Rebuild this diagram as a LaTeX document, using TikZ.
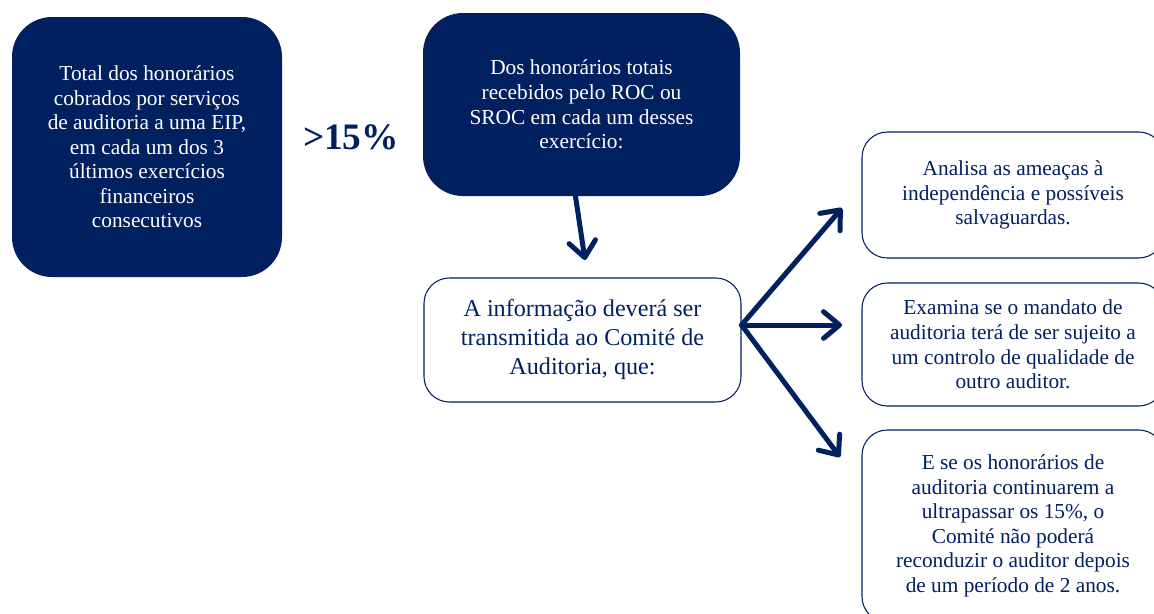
\documentclass[tikz,border=0pt]{standalone}
\usepackage{fontspec}
\setmainfont{Liberation Serif}
\usetikzlibrary{calc,positioning,arrows.meta}
\definecolor{navy}{RGB}{0,32,96}

\begin{document}
\begin{tikzpicture}[
  x=0.75pt,y=-0.75pt,
  darkbox/.style={rectangle,rounded corners=30pt,fill=navy,text=white,align=center,
    font=\fontsize{16}{18.4}\selectfont,inner sep=0pt},
  lightbox/.style={rectangle,rounded corners=19pt,draw=navy,line width=0.8pt,fill=white,
    text=navy,align=center,font=\fontsize{16}{18.4}\selectfont,inner sep=0pt},
  fatarrow/.style={draw=navy,line width=3.75pt,line cap=round,
    -{Straight Barb[length=12pt,width=20pt,round]},
    preaction={draw=black!15,transform canvas={shift={(1.2pt,-1.6pt)}}}},
  ]

  \useasboundingbox (0,0) rectangle (1154,614);

  % left side
  \node (total) [darkbox,minimum width=202.5pt,minimum height=195pt] at (147,147)
    {Total dos honorários\\cobrados por serviços\\de auditoria a uma EIP,\\em cada um dos 3\\últimos exercícios\\financeiros\\consecutivos};
  \node (pct) [text=navy,font=\fontsize{28}{30}\selectfont\bfseries] at (351,137) {>15\%};

  % middle column
  \node (roc) [darkbox,minimum width=237.75pt,minimum height=137.25pt] at (581.5,104.5)
    {Dos honorários totais\\recebidos pelo ROC ou\\SROC em cada um desses\\exercício:};
  \node (comite) [lightbox,minimum width=237.75pt,minimum height=93pt,
    font=\fontsize{18.1}{21.75}\selectfont] at (582.5,340)
    {A informação deverá ser\\transmitida ao Comité de\\Auditoria, que:};

  % right column
  \node (ameacas) [lightbox,minimum width=226.5pt,minimum height=94.5pt] at (1013,195)
    {Analisa as ameaças à\\independência e possíveis\\salvaguardas.};
  \node (mandato) [lightbox,minimum width=226.5pt,minimum height=92.25pt] at (1013,344.5)
    {Examina se o mandato de\\auditoria terá de ser sujeito a\\um controlo de qualidade de\\outro auditor.};
  \node (reconduzir) [lightbox,minimum width=226.5pt,minimum height=144pt] at (1013,526)
    {E se os honorários de\\auditoria continuarem a\\ultrapassar os 15\%, o\\Comité não poderá\\reconduzir o auditor depois\\de um período de 2 anos.};

  % arrows
  \coordinate (down_end) at (585,260);
  \draw[fatarrow] ($(roc.south)+(-6,0)$) -- (down_end);

  \coordinate (fan) at ($(comite.east)+(0,-15)$);
  \coordinate (tip_ameacas) at (842,208);
  \coordinate (tip_mandato) at (842,325);
  \coordinate (tip_reconduzir) at (840,457);
  \foreach \t in {ameacas,mandato,reconduzir}
    \draw[fatarrow] (fan) -- (tip_\t);

\end{tikzpicture}
\end{document}
